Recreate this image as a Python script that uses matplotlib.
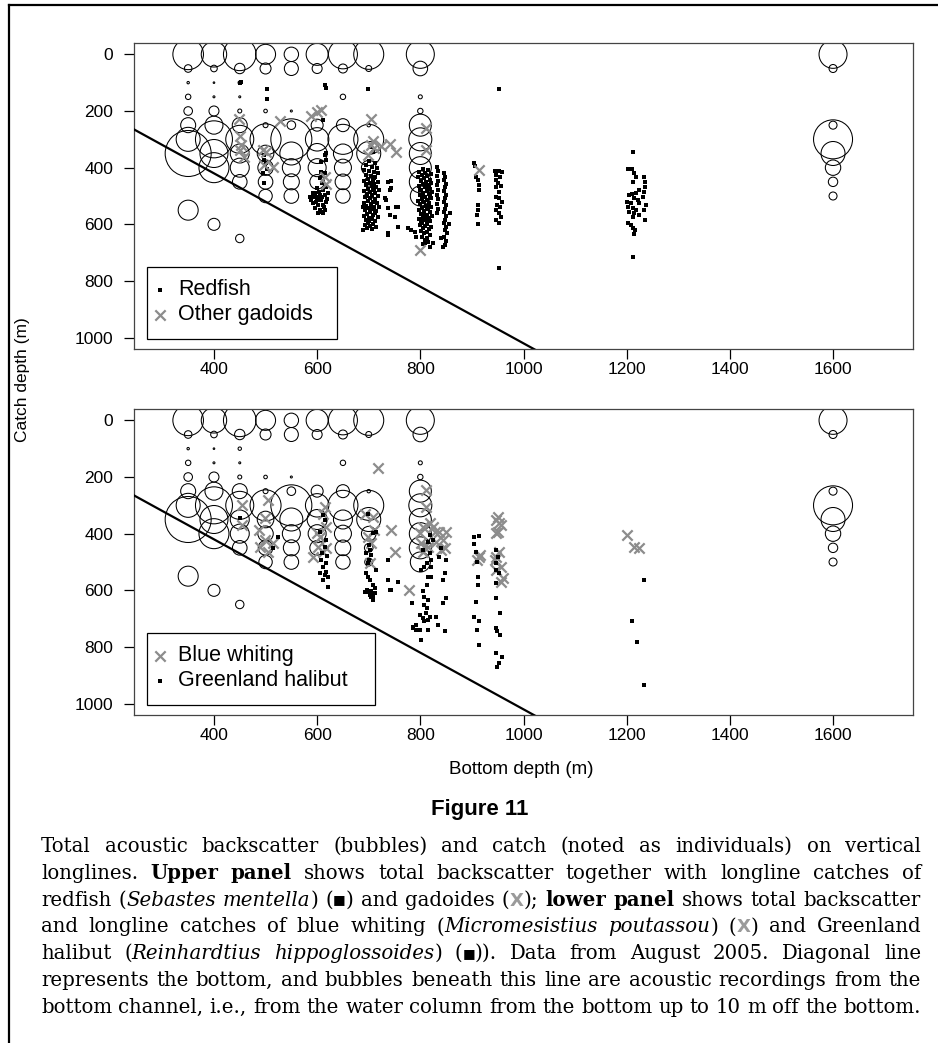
import re
import matplotlib
matplotlib.use("Agg")
import matplotlib.pyplot as plt
from matplotlib.patches import Rectangle
from matplotlib.lines import Line2D

plt.rcParams['font.family'] = ['Liberation Sans', 'DejaVu Sans']

W, H, DPI = 938, 1043, 100

### DATA -------------------------------------------------------------------------
# backscatter bubbles (same in both panels): bottom depth, depth in water column, bubble radius (px)
bubble_bottom = [350] * 9 + [400] * 10 + [450] * 11 + [500] * 9 + [550] * 9 + [600] * 7 + [650] * 9 \
    + [700] * 8 + [800] * 10 + [1600] * 8
bubble_depth = [0, 50, 100, 150, 200, 250, 300, 350, 550,
                0, 50, 100, 150, 200, 250, 300, 350, 400, 600,
                0, 50, 100, 150, 200, 250, 300, 350, 400, 450, 650,
                0, 50, 200, 250, 300, 350, 400, 450, 500,
                0, 50, 200, 250, 300, 350, 400, 450, 500,
                0, 50, 250, 300, 350, 400, 450,
                0, 50, 150, 250, 300, 350, 400, 450, 500,
                0, 50, 250, 300, 350, 400, 450, 500,
                0, 50, 150, 200, 250, 300, 350, 400, 450, 500,
                0, 50, 250, 300, 350, 400, 450, 500]
bubble_radius = [15.3, 3.8, 1.2, 2.7, 4.3, 7.5, 12, 23, 10,
                 12.7, 3.3, 0.8, 1, 5, 9, 18.5, 14, 15, 6,
                 16.3, 5.2, 1.7, 1, 2, 7.5, 14, 9.5, 9.5, 7.3, 4.2,
                 10, 5.5, 1.8, 2.5, 15.5, 8.3, 7.7, 7.3, 6.7,
                 7.2, 7, 1, 4.3, 20.5, 11.5, 9, 8, 7.3,
                 11, 5, 6, 11.7, 10, 9, 7.3,
                 14.5, 4.5, 2.7, 6.5, 15, 9.5, 8.5, 7.8, 7.2,
                 15, 3, 1.7, 15, 12, 7.3, 4.3, 4,
                 14, 7.3, 2, 2.7, 11, 11.5, 11, 11, 11, 10,
                 14, 4, 4, 19.5, 12, 7.7, 4.7, 4]

# upper panel: redfish catches (bottom depth, catch depth)
redfish_top = [(450, 100), (452, 97), (503, 121), (503, 156), (615, 109), (618, 118),
               (612, 232), (699, 124), (953, 124), (952, 755)]
redfish_500 = [(497, 356), (497, 373), (501, 385), (499, 391), (503, 403), (495, 420), (497, 453)]
redfish_600 = [(615, 356), (618, 373), (608, 414), (605, 438), (610, 455), (599, 473), (592, 491),
               (586, 502), (595, 502), (605, 496), (615, 496), (621, 491), (589, 514), (599, 514),
               (608, 514), (618, 520), (592, 526), (602, 532), (612, 532), (595, 543), (605, 549),
               (615, 549), (602, 561), (610, 555), (588, 508), (604, 485), (612, 479), (618, 467),
               (618, 350), (608, 379), (615, 420), (602, 503), (592, 503), (605, 555), (612, 561),
               (598, 520), (610, 505), (620, 510), (596, 490), (613, 540)]
redfish_700 = [(704, 326), (708, 345), (700, 378), (712, 384), (695, 392), (706, 398), (716, 402),
               (690, 410), (700, 412), (710, 416), (718, 420), (694, 426), (704, 430), (713, 434),
               (699, 440), (708, 444), (690, 448), (717, 450), (702, 454), (711, 458), (695, 462),
               (706, 466), (715, 470), (698, 474), (709, 478), (691, 482), (703, 486), (713, 490),
               (697, 494), (707, 498), (718, 500), (693, 504), (702, 508), (712, 512), (699, 516),
               (708, 520), (690, 524), (716, 526), (704, 530), (695, 534), (711, 538), (700, 542),
               (707, 546), (692, 550), (714, 554), (703, 558), (697, 562), (709, 566), (690, 570),
               (717, 574), (700, 578), (706, 582), (694, 586), (712, 590), (699, 594), (708, 598),
               (692, 602), (703, 606), (714, 610), (697, 614), (706, 618), (689, 620), (711, 480),
               (696, 500), (705, 540), (713, 560), (700, 590), (694, 456), (710, 436), (719, 540),
               (688, 540), (720, 480)]
redfish_750 = [(737, 450), (744, 447), (744, 473), (741, 479), (731, 508), (734, 514), (753, 538),
               (737, 544), (757, 540), (741, 567), (750, 573), (757, 608), (737, 632), (737, 637)]
redfish_800 = [(806, 403), (815, 408), (798, 414), (810, 418), (820, 422), (803, 426), (813, 430),
               (796, 434), (808, 438), (818, 442), (801, 446), (811, 450), (821, 454), (805, 458),
               (815, 462), (797, 466), (809, 470), (819, 474), (802, 478), (812, 482), (822, 486),
               (806, 490), (816, 494), (799, 498), (810, 502), (820, 506), (803, 510), (813, 514),
               (796, 518), (807, 522), (817, 526), (800, 530), (811, 534), (821, 538), (804, 542),
               (814, 546), (798, 550), (808, 554), (818, 558), (801, 562), (812, 566), (822, 570),
               (805, 574), (815, 578), (797, 582), (809, 586), (819, 590), (803, 594), (813, 598),
               (800, 602), (810, 606), (820, 610), (806, 614), (816, 618), (802, 622), (812, 626),
               (808, 632), (818, 638), (804, 644), (813, 650), (809, 656), (815, 662), (806, 668),
               (812, 460), (800, 480), (818, 500), (806, 520), (813, 540), (801, 590), (811, 575),
               (816, 470), (804, 505), (812, 545), (807, 565), (817, 585),
               (776, 614), (782, 620), (789, 626), (792, 643), (810, 667), (818, 679), (824, 667)]
redfish_840 = [(833, 398), (834, 412), (832, 430), (835, 446), (833, 462), (834, 478), (832, 495),
               (835, 512), (833, 528), (834, 545), (832, 560), (846, 420), (848, 432), (845, 445),
               (849, 458), (847, 470), (846, 483), (850, 495), (848, 508), (845, 520), (849, 532),
               (847, 545), (846, 558), (850, 570), (848, 583), (845, 596), (849, 608), (847, 620),
               (852, 632), (846, 645), (850, 660), (848, 672), (857, 560), (855, 600), (840, 650),
               (843, 680)]
redfish_910 = [(905, 383), (906, 395), (908, 432), (912, 445), (913, 461), (913, 479), (911, 532),
               (911, 549), (910, 567), (911, 599)]
redfish_950 = [(944, 411), (952, 411), (959, 414), (947, 426), (955, 432), (946, 444), (950, 453),
               (947, 467), (957, 465), (952, 485), (946, 502), (953, 508), (959, 520), (948, 532),
               (955, 540), (946, 549), (952, 561), (957, 573), (947, 585), (953, 594)]
redfish_1220 = [(1213, 346), (1202, 403), (1210, 406), (1215, 420), (1218, 432), (1212, 450),
                (1234, 432), (1236, 450), (1235, 467), (1234, 485), (1231, 502), (1224, 479),
                (1218, 491), (1210, 493), (1204, 497), (1215, 508), (1221, 514), (1200, 520),
                (1208, 526), (1224, 526), (1237, 532), (1202, 538), (1212, 544), (1219, 549),
                (1233, 549), (1205, 555), (1215, 561), (1223, 567), (1212, 573), (1202, 594),
                (1208, 602), (1213, 614), (1217, 620), (1215, 634), (1236, 585), (1213, 716)]

# upper panel: other gadoids
gadoids = [(449, 227), (450, 289), (453, 321), (450, 338), (459, 362), (495, 338), (501, 344),
           (515, 397), (497, 391), (528, 235), (589, 218), (599, 203), (608, 195), (618, 456),
           (615, 432), (705, 227), (705, 320), (708, 305), (711, 332), (699, 356), (741, 318),
           (753, 344), (724, 324), (811, 260), (811, 338), (799, 690), (913, 407)]

# lower panel: blue whiting
blue_whiting = [(718, 170), (454, 299), (454, 370), (505, 282), (499, 346), (488, 388), (499, 423),
                (489, 446), (515, 434), (505, 464), (605, 411), (602, 446), (592, 481), (612, 464),
                (618, 376), (615, 305), (612, 329), (599, 399), (618, 452), (692, 329), (708, 341),
                (711, 387), (699, 411), (705, 434), (702, 505), (744, 387), (750, 464), (779, 599),
                (811, 247), (811, 305), (805, 376), (799, 399), (802, 434), (805, 464), (815, 446),
                (824, 376), (837, 393), (844, 423), (847, 452), (850, 393), (841, 458), (818, 364),
                (828, 393), (831, 428), (808, 446), (913, 481), (910, 493), (947, 352), (947, 399),
                (944, 493), (950, 340), (953, 364), (950, 393), (915, 475), (947, 481), (952, 464),
                (957, 516), (960, 558), (947, 528), (957, 370), (957, 570),
                (1201, 405), (1215, 446), (1224, 452)]

# lower panel: Greenland halibut
halibut = [(450, 346), (524, 411), (515, 452),
           (612, 335), (615, 352), (605, 393), (618, 423), (615, 446), (608, 493), (618, 505),
           (612, 517), (618, 534), (615, 546), (621, 552), (612, 564), (621, 587), (605, 540),
           (610, 470), (620, 480),
           (699, 329), (708, 399), (715, 393), (701, 440), (702, 458), (705, 475), (699, 505),
           (715, 528), (699, 552), (702, 563), (712, 593), (708, 581), (696, 599), (705, 604),
           (712, 610), (702, 616), (708, 622), (695, 470), (701, 493), (695, 540), (699, 605),
           (692, 605), (708, 634), (711, 610), (705, 622),
           (737, 493), (737, 563), (741, 599), (757, 569), (744, 599), (783, 646),
           (818, 405), (815, 428), (805, 458), (818, 469), (812, 505), (808, 516), (821, 516),
           (815, 552), (821, 552), (812, 581), (805, 604), (808, 622), (815, 634), (808, 651),
           (812, 663), (799, 687), (805, 698), (818, 693), (808, 710), (792, 722), (786, 734),
           (799, 740), (815, 740), (831, 693), (834, 722), (847, 745), (844, 646), (850, 628),
           (844, 563), (847, 540), (850, 493), (837, 481), (841, 452), (802, 528), (821, 493),
           (825, 422), (802, 775), (792, 740), (811, 681), (815, 704), (786, 728),
           (914, 408), (905, 437), (908, 464), (910, 499), (911, 552), (911, 581), (908, 640),
           (905, 693), (913, 710), (910, 740), (913, 793), (905, 411),
           (946, 458), (950, 481), (947, 505), (947, 528), (952, 540), (946, 575), (947, 628),
           (955, 681), (947, 734), (948, 745), (955, 757), (947, 822), (948, 869), (952, 857),
           (959, 836),
           (1233, 564), (1211, 708), (1220, 781), (1233, 934)]

# bottom line: catch depth = bottom depth + offset
bottom_line_x = [200, 1200]
bottom_offset = 20

x_ticks = [400, 600, 800, 1000, 1200, 1400, 1600]
y_ticks = [0, 200, 400, 600, 800, 1000]

caption_lines = [
    "Total acoustic backscatter (bubbles) and catch (noted as individuals) on vertical",
    "longlines. **Upper panel** shows total backscatter together with longline catches of",
    "redfish (*Sebastes mentella*) ({S}) and gadoides ({X}); **lower panel** shows total backscatter",
    "and longline catches of blue whiting (*Micromesistius poutassou*) ({X}) and Greenland",
    "halibut (*Reinhardtius hippoglossoides*) ({S})). Data from August 2005. Diagonal line",
    "represents the bottom, and bubbles beneath this line are acoustic recordings from the",
    "bottom channel, i.e., from the water column from the bottom up to 10 m off the bottom.",
]

GRAY = '#8c8c8c'


###FUNCTIONS ---------------------------------------------------------------------
def r_to_s(r_px):
    return (2 * r_px * 72.0 / DPI) ** 2


def draw_dots(ax, pts, z=4):
    xs, ys = zip(*pts)
    ax.scatter(xs, ys, marker='s', s=7, c='black', linewidths=0, zorder=z)


def draw_x(ax, pts, z=5):
    xs, ys = zip(*pts)
    ax.scatter(xs, ys, marker='x', s=55, c=GRAY, linewidths=1.6, zorder=z)


def base_panel(ax):
    ax.scatter(bubble_bottom, bubble_depth, s=[r_to_s(r) for r in bubble_radius],
               facecolors='none', edgecolors='black', linewidths=0.75, zorder=2)
    ax.plot(bottom_line_x, [v + bottom_offset for v in bottom_line_x], color='black', lw=1.6, zorder=3)
    ax.set_xlim(245, 1755)
    ax.set_ylim(1040, -40)
    ax.set_xticks(x_ticks)
    ax.set_yticks(y_ticks)
    ax.tick_params(direction='out', length=7, width=0.9, labelsize=12.5)
    ax.tick_params(axis='x', pad=2.5)
    ax.tick_params(axis='y', pad=8)
    for sp in ax.spines.values():
        sp.set_color('#444444')
        sp.set_linewidth(0.9)


def draw_legend(ax, width_px, entries):
    ax.add_patch(Rectangle((13 / 779, 10 / 306), width_px / 779, 72 / 306, transform=ax.transAxes,
                           facecolor='white', edgecolor='black', lw=0.9, zorder=6))
    for i, (kind, label) in enumerate(entries):
        yy = (82 - 23 - 25 * i) / 306
        if kind == 'x':
            ax.scatter([26 / 779], [yy], marker='x', s=55, c=GRAY, linewidths=1.6,
                       transform=ax.transAxes, zorder=7, clip_on=False)
        else:
            ax.scatter([26 / 779], [yy], marker='s', s=7, c='black', linewidths=0,
                       transform=ax.transAxes, zorder=7, clip_on=False)
        ax.text(44 / 779, yy, label, transform=ax.transAxes, fontsize=15.5, va='center',
                ha='left', zorder=7)


def parse_line(line):
    words, cur, style = [], [], 'n'
    for t in re.split(r'(\*\*|\*|\{X\}|\{S\})', line):
        if t == '**':
            style = 'n' if style == 'b' else 'b'
            continue
        if t == '*':
            style = 'n' if style == 'i' else 'i'
            continue
        if t == '{X}':
            cur.append(('X', 'x'))
            continue
        if t == '{S}':
            cur.append(('\u25a0', 's'))
            continue
        parts = t.split(' ')
        for k, p in enumerate(parts):
            if k > 0 and cur:
                words.append(cur)
                cur = []
            if p:
                cur.append((p, style))
    if cur:
        words.append(cur)
    return words


def piece_props(style, fs):
    if style == 'b':
        return dict(family='DejaVu Serif', fontweight='bold', fontsize=fs)
    if style == 'i':
        return dict(family='DejaVu Serif', style='italic', fontsize=fs)
    if style == 'x':
        return dict(family='DejaVu Sans', fontweight='bold', fontsize=fs * 0.92, color='#9a9a9a')
    if style == 's':
        return dict(family='DejaVu Sans', fontsize=fs * 0.68)
    return dict(family='DejaVu Serif', fontsize=fs)


def text_width(fig, renderer, txt, props):
    t = fig.text(0, 0, txt, **props)
    w = t.get_window_extent(renderer).width
    t.remove()
    return w


def natural_width(fig, renderer, words, fs):
    space = text_width(fig, renderer, 'x x', piece_props('n', fs)) - \
        text_width(fig, renderer, 'xx', piece_props('n', fs))
    total = sum(text_width(fig, renderer, txt, piece_props(st, fs)) for w in words for txt, st in w)
    return total + space * (len(words) - 1)


def draw_caption(fig, lines, x0, x1, y_first, step, base_fs=12.0):
    renderer = fig.canvas.get_renderer()
    parsed = [parse_line(l) for l in lines]
    widest = max(natural_width(fig, renderer, w, base_fs) for w in parsed)
    fs = base_fs * (x1 - x0 - 2) / widest
    for li, words in enumerate(parsed):
        yb = 1 - (y_first + li * step) / H
        placed = []
        for w in words:
            pieces = []
            for txt, st in w:
                t = fig.text(0, yb, txt, va='baseline', ha='left', **piece_props(st, fs))
                pieces.append((t, t.get_window_extent(renderer).width, st))
            placed.append(pieces)
        widths = [sum(p[1] for p in ps) for ps in placed]
        gap = (x1 - x0 - sum(widths)) / (len(words) - 1)
        x = x0
        for ps, wsum in zip(placed, widths):
            xx = x
            for t, wd, st in ps:
                lift = 2.5 / H if st == 's' else 0
                t.set_position((xx / W, yb + lift))
                xx += wd
            x += wsum + gap


###MAIN --------------------------------------------------------------------------
fig = plt.figure(figsize=(W / DPI, H / DPI), dpi=DPI)
ax1 = fig.add_axes([134 / W, 1 - 349 / H, 779 / W, 306 / H])
ax2 = fig.add_axes([134 / W, 1 - 715 / H, 779 / W, 306 / H])

base_panel(ax1)
for grp in [redfish_top, redfish_500, redfish_600, redfish_700, redfish_750, redfish_800,
            redfish_840, redfish_910, redfish_950, redfish_1220]:
    draw_dots(ax1, grp)
draw_x(ax1, gadoids)
draw_legend(ax1, 190, [('s', 'Redfish'), ('x', 'Other gadoids')])

base_panel(ax2)
draw_x(ax2, blue_whiting, z=4)
draw_dots(ax2, halibut, z=5)
draw_legend(ax2, 228, [('x', 'Blue whiting'), ('s', 'Greenland halibut')])

fig.text(22 / W, 1 - 380 / H, 'Catch depth (m)', rotation=90, ha='center', va='center', fontsize=12.5)
fig.text(521 / W, 1 - 769 / H, 'Bottom depth (m)', ha='center', va='center', fontsize=13.5)
fig.text(480 / W, 1 - 809 / H, 'Figure 11', ha='center', va='center', fontsize=16,
         fontweight='bold')

draw_caption(fig, caption_lines, 41, 921, 852, 26.8)

# outer frame (left and top)
fig.add_artist(Line2D([9 / W, 9 / W], [0, 1 - 5 / H], color='black', lw=1.6, transform=fig.transFigure))
fig.add_artist(Line2D([9 / W, 1], [1 - 5 / H, 1 - 5 / H], color='black', lw=1.6, transform=fig.transFigure))

fig.savefig('out.png', dpi=DPI)
